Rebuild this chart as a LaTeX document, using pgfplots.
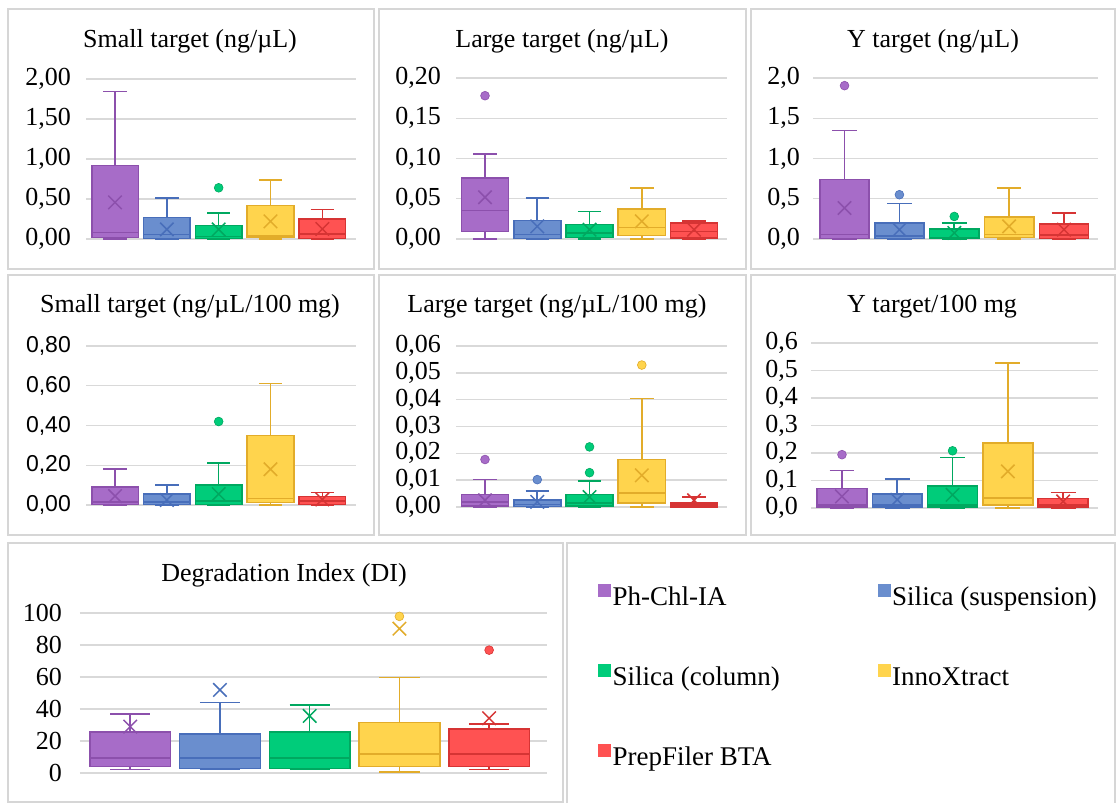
\documentclass[border=0pt]{standalone}
\usepackage{fontspec}
\setmainfont{Liberation Serif}
\newfontfamily\sansf{Liberation Sans}
\usepackage{pgfplots}
\pgfplotsset{compat=1.18}
\usepgfplotslibrary{statistics}

\definecolor{purF}{RGB}{167,108,200}
\definecolor{purD}{RGB}{140,80,172}
\definecolor{bluF}{RGB}{106,142,206}
\definecolor{bluD}{RGB}{72,110,186}
\definecolor{grnF}{RGB}{0,204,122}
\definecolor{grnD}{RGB}{0,168,96}
\definecolor{yelF}{RGB}{255,212,77}
\definecolor{yelD}{RGB}{226,172,42}
\definecolor{redF}{RGB}{255,82,82}
\definecolor{redD}{RGB}{214,52,52}
\definecolor{gridgray}{RGB}{217,217,217}
\definecolor{framegray}{RGB}{214,214,214}

\newcommand\titlefont{\fontsize{26pt}{30pt}\selectfont}
\newcommand\legfont{\fontsize{27pt}{31pt}\selectfont}
\newcommand\tickfont{\rmfamily\fontsize{26pt}{29pt}\selectfont}
\newcommand\sticktfont{\sansf\fontsize{23pt}{26pt}\selectfont}

% box: color, position, lower whisker, lower quartile, median, upper quartile, upper whisker
\newcommand{\bx}[7]{\addplot[draw=#1D, line width=1.6pt, boxplot prepared={draw direction=y, draw position=#2, lower whisker=#3, lower quartile=#4, median=#5, upper quartile=#6, upper whisker=#7, box extend=0.9, whisker extend=0.45, every box/.style={fill=#1F}}] coordinates {};}
\newcommand{\mn}[3]{\addplot[only marks, mark=x, mark size=9.5pt, draw=#1D, line width=1.5pt] coordinates {(#2,#3)};}
\newcommand{\ou}[3]{\addplot[only marks, mark=*, mark size=4.4pt, draw=#1D, fill=#1F, line width=0.6pt] coordinates {(#2,#3)};}

\pgfplotsset{
  panel/.style={scale only axis, anchor=south west,
    axis line style={draw=none}, xtick=\empty, major tick length=0pt,
    ymajorgrids, grid style={gridgray, line width=1.4pt},
    ymin=0, xmin=-0.56, xmax=4.65, clip=false,
    scaled y ticks=false,
    yticklabel={\pgfmathprintnumber{\tick}},
    yticklabel style={font=\tickfont, inner sep=0pt, xshift=-15pt,
      /pgf/number format/fixed, /pgf/number format/fixed zerofill,
      /pgf/number format/precision=2, /pgf/number format/use comma,
      /pgf/number format/assume math mode=true}},
}

\begin{document}
\begin{tikzpicture}
\fill[white] (0pt,0pt) rectangle (1116pt,803pt);
% panel frames
\begin{scope}[framegray, line width=1.4pt]
\draw (8pt,534pt) rectangle (374pt,794pt);
\draw (379pt,534pt) rectangle (746pt,794pt);
\draw (751pt,534pt) rectangle (1115pt,794pt);
\draw (8pt,268pt) rectangle (374pt,528pt);
\draw (379pt,268pt) rectangle (746pt,528pt);
\draw (751pt,268pt) rectangle (1115pt,528pt);
\draw (8pt,1pt) rectangle (563pt,260pt);
\draw (567pt,0pt) -- (567pt,260pt) -- (1115pt,260pt) -- (1115pt,0pt);
\end{scope}

% titles
\node[font=\titlefont, anchor=base] at (190pt,755pt) {Small target (ng/µL)};
\node[font=\titlefont, anchor=base] at (562pt,755pt) {Large target (ng/µL)};
\node[font=\titlefont, anchor=base] at (933pt,755pt) {Y target (ng/µL)};
\node[font=\titlefont, anchor=base] at (190pt,490pt) {Small target (ng/µL/100 mg)};
\node[font=\titlefont, anchor=base] at (557pt,490pt) {Large target (ng/µL/100 mg)};
\node[font=\titlefont, anchor=base] at (932pt,490pt) {Y target/100 mg};
\node[font=\titlefont, anchor=base] at (284pt,222pt) {Degradation Index (DI)};

% ---------- Panel 1: Small target (ng/uL)
\begin{axis}[panel, at={(86pt,564pt)}, width=270pt, height=160pt,
  ymax=2, ytick={0,0.5,1,1.5,2}]
\bx{pur}{0}{0}{0.02}{0.083}{0.917}{1.846}
\bx{blu}{1}{0}{0.005}{0.054}{0.27}{0.51}
\bx{grn}{2}{0}{0.005}{0.03}{0.17}{0.325}
\bx{yel}{3}{0}{0.02}{0.04}{0.417}{0.74}
\bx{red}{4}{0}{0.005}{0.06}{0.25}{0.367}
\mn{pur}{0}{0.458}
\mn{blu}{1}{0.12}
\mn{grn}{2}{0.12}
\mn{yel}{3}{0.22}
\mn{red}{4}{0.125}
\ou{grn}{2}{0.64}
\end{axis}

% ---------- Panel 2: Large target (ng/uL)
\begin{axis}[panel, at={(456pt,564pt)}, width=271pt, height=161pt,
  xmin=-0.555, xmax=4.63, ymax=0.2, ytick={0,0.05,0.1,0.15,0.2}]
\bx{pur}{0}{0}{0.0095}{0.0352}{0.0758}{0.1056}
\bx{blu}{1}{0}{0.0005}{0.0054}{0.0228}{0.051}
\bx{grn}{2}{0}{0.002}{0.0075}{0.0178}{0.0344}
\bx{yel}{3}{0}{0.0045}{0.0145}{0.0373}{0.0634}
\bx{red}{4}{0}{0.001}{0.0095}{0.02}{0.022}
\mn{pur}{0}{0.0518}
\mn{blu}{1}{0.0157}
\mn{grn}{2}{0.0116}
\mn{yel}{3}{0.022}
\mn{red}{4}{0.0116}
\ou{pur}{0}{0.178}
\end{axis}

% ---------- Panel 3: Y target (ng/uL)
\begin{axis}[panel, at={(813pt,564pt)}, width=285pt, height=161pt,
  xmin=-0.575, xmax=4.62, ymax=2, ytick={0,0.5,1,1.5,2},
  yticklabel style={xshift=2pt, /pgf/number format/precision=1}]
\bx{pur}{0}{0}{0.005}{0.054}{0.737}{1.346}
\bx{blu}{1}{0}{0.005}{0.04}{0.2}{0.44}
\bx{grn}{2}{0}{0.005}{0.02}{0.124}{0.2}
\bx{yel}{3}{0}{0.02}{0.054}{0.27}{0.634}
\bx{red}{4}{0}{0.005}{0.05}{0.19}{0.323}
\mn{pur}{0}{0.385}
\mn{blu}{1}{0.116}
\mn{grn}{2}{0.075}
\mn{yel}{3}{0.157}
\mn{red}{4}{0.116}
\ou{pur}{0}{1.905}
\ou{blu}{1}{0.55}
\ou{grn}{2}{0.28}
\end{axis}

% ---------- Panel 4: Small target (ng/uL/100 mg)
\begin{axis}[panel, at={(86pt,298pt)}, width=270pt, height=159pt,
  ymax=0.8, ytick={0,0.2,0.4,0.6,0.8},
  yticklabel style={font=\sticktfont}]
\bx{pur}{0}{0}{0.002}{0.015}{0.092}{0.18}
\bx{blu}{1}{0}{0.003}{0.015}{0.054}{0.1}
\bx{grn}{2}{0}{0.003}{0.02}{0.1}{0.21}
\bx{yel}{3}{0}{0.012}{0.032}{0.349}{0.612}
\bx{red}{4}{0}{0.002}{0.02}{0.042}{0.062}
\mn{pur}{0}{0.045}
\mn{blu}{1}{0.025}
\mn{grn}{2}{0.055}
\mn{yel}{3}{0.18}
\mn{red}{4}{0.028}
\ou{grn}{2}{0.42}
\end{axis}

% ---------- Panel 5: Large target (ng/uL/100 mg)
\begin{axis}[panel, at={(456pt,296pt)}, width=271pt, height=161pt,
  xmin=-0.555, xmax=4.63, ymax=0.06, ytick={0,0.01,0.02,0.03,0.04,0.05,0.06}]
\bx{pur}{0}{0}{0.0003}{0.0018}{0.0046}{0.0102}
\bx{blu}{1}{0}{0.0002}{0.001}{0.0025}{0.006}
\bx{grn}{2}{0}{0.0003}{0.0015}{0.0046}{0.0097}
\bx{yel}{3}{0}{0.0016}{0.0052}{0.0177}{0.0405}
\bx{red}{4}{0}{0.0001}{0.0008}{0.0016}{0.0037}
\mn{pur}{0}{0.0025}
\mn{blu}{1}{0.0019}
\mn{grn}{2}{0.0037}
\mn{yel}{3}{0.0118}
\mn{red}{4}{0.0025}
\ou{pur}{0}{0.0177}
\ou{blu}{1}{0.0102}
\ou{grn}{2}{0.0224}
\ou{grn}{2}{0.0128}
\ou{yel}{3}{0.0529}
\end{axis}

% ---------- Panel 6: Y target/100 mg
\begin{axis}[panel, at={(811pt,295pt)}, width=287pt, height=165pt,
  xmin=-0.56, xmax=4.63, ymax=0.6, ytick={0,0.1,0.2,0.3,0.4,0.5,0.6},
  yticklabel style={xshift=2pt, /pgf/number format/precision=1}]
\bx{pur}{0}{0}{0.004}{0.012}{0.0715}{0.136}
\bx{blu}{1}{0}{0.004}{0.012}{0.051}{0.105}
\bx{grn}{2}{0}{0.004}{0.01}{0.079}{0.184}
\bx{yel}{3}{0}{0.012}{0.036}{0.236}{0.527}
\bx{red}{4}{0}{0.004}{0.01}{0.035}{0.057}
\mn{pur}{0}{0.042}
\mn{blu}{1}{0.03}
\mn{grn}{2}{0.048}
\mn{yel}{3}{0.133}
\mn{red}{4}{0.024}
\ou{pur}{0}{0.194}
\ou{grn}{2}{0.208}
\end{axis}

% ---------- Panel 7: Degradation Index (DI)
\begin{axis}[panel, at={(80pt,30pt)}, width=467pt, height=160pt,
  xmin=-0.56, xmax=4.645, ymax=100, ytick={0,20,40,60,80,100}, clip=true,
  yticklabel style={xshift=-3pt, /pgf/number format/precision=0, /pgf/number format/fixed zerofill=false}]
\bx{pur}{0}{2.1}{4.1}{9.3}{25.5}{36.7}
\bx{blu}{1}{2.1}{2.9}{9.3}{24.3}{44}
\bx{grn}{2}{2.1}{2.9}{9.3}{25.5}{42.5}
\bx{yel}{3}{0.6}{4.1}{12}{31.5}{59.8}
\bx{red}{4}{2.1}{4.1}{12}{27.6}{30.5}
\mn{pur}{0}{29}
\mn{blu}{1}{51.9}
\mn{grn}{2}{35.7}
\mn{yel}{3}{90.2}
\mn{red}{4}{34.2}
\ou{yel}{3}{97.9}
\ou{red}{4}{76.8}
\ou{red}{4}{103.5}
\end{axis}

% ---------- Legend
\begin{axis}[at={(567pt,0pt)}, anchor=south west, scale only axis, width=548pt, height=260pt,
  hide axis, xmin=0, xmax=1, ymin=0, ymax=1,
  legend columns=2, legend cell align=left,
  legend style={at={(0.0566,0.845)}, anchor=north west, draw=none, fill=none,
    font=\legfont, inner sep=0pt, row sep=55pt,
    /tikz/every even column/.append style={column sep=96pt}}]
\addlegendimage{legend image code/.code={\fill[purF] (0pt,1pt) rectangle (12pt,13pt);}}
\addlegendentry{Ph-Chl-IA}
\addlegendimage{legend image code/.code={\fill[bluF] (0pt,1pt) rectangle (12pt,13pt);}}
\addlegendentry{Silica (suspension)}
\addlegendimage{legend image code/.code={\fill[grnF] (0pt,1pt) rectangle (12pt,13pt);}}
\addlegendentry{Silica (column)}
\addlegendimage{legend image code/.code={\fill[yelF] (0pt,1pt) rectangle (12pt,13pt);}}
\addlegendentry{InnoXtract}
\addlegendimage{legend image code/.code={\fill[redF] (0pt,1pt) rectangle (12pt,13pt);}}
\addlegendentry{PrepFiler BTA}
\end{axis}
\end{tikzpicture}
\end{document}
